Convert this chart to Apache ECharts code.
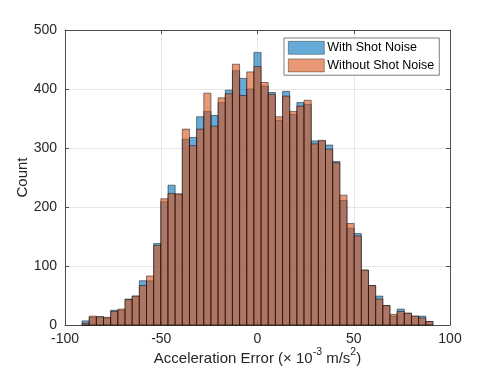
<!DOCTYPE html>
<html>
<head>
<meta charset="utf-8">
<script src="https://cdn.jsdelivr.net/npm/echarts@6/dist/echarts.min.js"></script>
<style>
  html, body { margin: 0; padding: 0; background: #fff; }
  #chart { width: 498px; height: 374px; }
</style>
</head>
<body>
<div id="chart"></div>
<script>
// histogram bins (x 1e-3 m/s^2)
const binStart = -91.14;
const binWidth = 3.72;

// counts per bin
const withShotNoise = [7, 13, 14, 12, 25, 25, 44, 49, 75, 75,
  138, 209, 237, 222, 315, 318, 353, 362, 355, 377,
  398, 431, 418, 400, 462, 405, 394, 347, 396, 357,
  377, 374, 312, 312, 305, 277, 211, 164, 155, 93,
  67, 49, 33, 15, 27, 20, 15, 15, 6];
const withoutShotNoise = [3, 15, 14, 13, 23, 27, 43, 49, 67, 83,
  135, 214, 223, 222, 332, 304, 332, 393, 337, 385,
  392, 442, 389, 429, 438, 411, 391, 353, 388, 362,
  371, 381, 307, 313, 298, 275, 220, 172, 151, 93,
  67, 44, 33, 18, 23, 20, 15, 12, 6];

const xTicks = [-100, -50, 0, 50, 100];
const yTicks = [0, 100, 200, 300, 400, 500];

const toBins = (counts) => counts.map((c, i) => [binStart + i * binWidth, binStart + (i + 1) * binWidth, c]);

const renderBin = (params, api) => {
  const p0 = api.coord([api.value(0), api.value(2)]);
  const p1 = api.coord([api.value(1), 0]);
  return {
    type: "rect",
    shape: { x: p0[0], y: p0[1], width: p1[0] - p0[0], height: p1[1] - p0[1] },
    style: api.style(),
  };
};

const font = "'Liberation Sans', Arial, Helvetica, sans-serif";
const axisColor = "#4d4d4d";

const chart = echarts.init(document.getElementById("chart"));
chart.setOption({
  animation: false,
  textStyle: { fontFamily: font },
  grid: { left: 65, right: 48, top: 30, bottom: 49 },
  legend: {
    orient: "vertical",
    left: 284,
    top: 38,
    icon: "rect",
    itemWidth: 36,
    itemHeight: 13,
    itemGap: 4,
    padding: [3, 5, 3, 4],
    backgroundColor: "#fff",
    borderColor: "#262626",
    borderWidth: 0.6,
    itemStyle: { borderWidth: 0.6, borderColor: "rgba(0,0,0,0.6)" },
    textStyle: { fontFamily: font, fontSize: 12.5, color: "#000", padding: [0, 0, 0, -2] },
    data: ["With Shot Noise", "Without Shot Noise"],
  },
  xAxis: [
    {
      type: "value", min: -100, max: 100, interval: 50,
      name: "{a|Acceleration Error (× 10}{s|-3}{a| m/s}{s|2}{a|)}",
      nameLocation: "middle", nameGap: 22, nameMoveOverlap: false,
      nameTextStyle: {
        rich: {
          a: { fontFamily: font, fontSize: 15, color: "#262626", lineHeight: 19, verticalAlign: "bottom" },
          s: { fontFamily: font, fontSize: 10.5, color: "#262626", lineHeight: 19, verticalAlign: "top" },
        },
      },
      axisLine: { show: true, onZero: false, lineStyle: { color: axisColor } },
      axisTick: { show: true, inside: true, length: 4, lineStyle: { color: axisColor } },
      axisLabel: { fontSize: 14, color: "#262626", margin: 7, formatter: (v) => xTicks.includes(v) ? String(v) : "" },
      splitLine: { show: true, lineStyle: { color: "#e6e6e6" } },
    },
    {
      type: "value", position: "top", min: -100, max: 100, interval: 50,
      axisLine: { show: true, onZero: false, lineStyle: { color: axisColor } },
      axisTick: { show: true, inside: true, length: 4, lineStyle: { color: axisColor } },
      axisLabel: { show: false },
      splitLine: { show: false },
    },
  ],
  yAxis: [
    {
      type: "value", min: 0, max: 500, interval: 100,
      name: "Count", nameLocation: "middle", nameGap: 35, nameMoveOverlap: false,
      nameTextStyle: { fontSize: 15, color: "#262626" },
      axisLine: { show: true, onZero: false, lineStyle: { color: axisColor } },
      axisTick: { show: true, inside: true, length: 4, lineStyle: { color: axisColor } },
      axisLabel: { fontSize: 14, color: "#262626", margin: 8, formatter: (v) => yTicks.includes(v) ? String(v) : "" },
      splitLine: { show: true, lineStyle: { color: "#e6e6e6" } },
    },
    {
      type: "value", position: "right", min: 0, max: 500, interval: 100,
      axisLine: { show: true, onZero: false, lineStyle: { color: axisColor } },
      axisTick: { show: true, inside: true, length: 4, lineStyle: { color: axisColor } },
      axisLabel: { show: false },
      splitLine: { show: false },
    },
  ],
  series: [
    {
      name: "With Shot Noise",
      type: "custom",
      renderItem: renderBin,
      encode: { x: [0, 1], y: 2 },
      itemStyle: { color: "rgba(0,114,189,0.6)", borderColor: "rgba(0,0,0,0.6)", borderWidth: 0.8 },
      data: toBins(withShotNoise),
    },
    {
      name: "Without Shot Noise",
      type: "custom",
      renderItem: renderBin,
      encode: { x: [0, 1], y: 2 },
      itemStyle: { color: "rgba(217,83,25,0.6)", borderColor: "rgba(0,0,0,0.6)", borderWidth: 0.8 },
      data: toBins(withoutShotNoise),
    },
  ],
});
</script>
</body>
</html>
